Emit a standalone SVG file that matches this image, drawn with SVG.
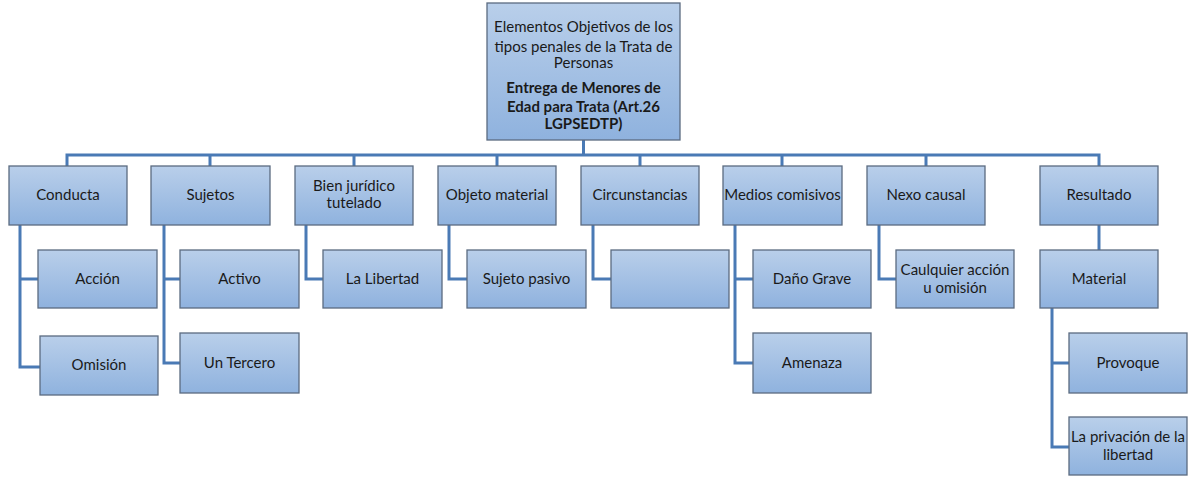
<svg xmlns="http://www.w3.org/2000/svg" width="1201" height="477" viewBox="0 0 1201 477">
<defs>
<linearGradient id="g" x1="0" y1="0" x2="0" y2="1">
<stop offset="0" stop-color="#b9cfea"/>
<stop offset="1" stop-color="#8fb2de"/>
</linearGradient>
<style>
.b{fill:url(#g);stroke:#5b6b80;stroke-width:1.3}
.t{font-family:Lato,"Open Sans",sans-serif;font-size:15px;fill:#1a1a1a;text-anchor:middle}
.bd{font-weight:bold}
.c{fill:none;stroke:#4a7ab5;stroke-width:3}
</style>
</defs>
<rect width="1201" height="477" fill="#fff"/>
<g id="connectors">
<path class="c" d="M583.5 140V155M67 166V155H1099V166M210 166V155M354 166V155M497 166V155M640 166V155M782 166V155M926 166V155"/>
<path class="c" d="M20 225V367H40M20 279H38"/>
<path class="c" d="M164 225V363H180M164 279H180"/>
<path class="c" d="M306 225V279H323"/>
<path class="c" d="M449 225V279H467"/>
<path class="c" d="M593 225V279H611"/>
<path class="c" d="M735 225V363H753M735 279H753"/>
<path class="c" d="M879 225V279H896"/>
<path class="c" d="M1099 225V250"/>
<path class="c" d="M1052 308V447H1069M1052 363H1069"/>
</g>
<g id="root"><rect class="b" x="487" y="3" width="193" height="137"/>
<text class="t" x="583.5" y="32">Elementos Objetivos de los</text>
<text class="t" x="583.5" y="52">tipos penales de la Trata de</text>
<text class="t" x="583.5" y="68">Personas</text>
<text class="t bd" x="583.5" y="93">Entrega de Menores de</text>
<text class="t bd" x="583.5" y="112">Edad para Trata (Art.26</text>
<text class="t bd" x="583.5" y="129">LGPSEDTP)</text></g>
<g id="conducta"><rect class="b" x="9" y="166" width="118" height="59"/><text class="t" x="68" y="200">Conducta</text></g>
<g id="sujetos"><rect class="b" x="151" y="166" width="119" height="59"/><text class="t" x="210.5" y="200">Sujetos</text></g>
<g id="bien"><rect class="b" x="295" y="166" width="118" height="59"/><text class="t" x="354" y="191">Bien jurídico</text><text class="t" x="354" y="208">tutelado</text></g>
<g id="objeto"><rect class="b" x="438" y="166" width="118" height="59"/><text class="t" x="497" y="200">Objeto material</text></g>
<g id="circ"><rect class="b" x="581" y="166" width="118" height="59"/><text class="t" x="640" y="200">Circunstancias</text></g>
<g id="medios"><rect class="b" x="723" y="166" width="119" height="59"/><text class="t" x="782.5" y="200">Medios comisivos</text></g>
<g id="nexo"><rect class="b" x="867" y="166" width="118" height="59"/><text class="t" x="926" y="200">Nexo causal</text></g>
<g id="resultado"><rect class="b" x="1040" y="166" width="118" height="59"/><text class="t" x="1099" y="200">Resultado</text></g>
<g id="accion"><rect class="b" x="38" y="250" width="119" height="58"/><text class="t" x="97.5" y="284">Acción</text></g>
<g id="omision"><rect class="b" x="40" y="336" width="118" height="59"/><text class="t" x="99" y="370">Omisión</text></g>
<g id="activo"><rect class="b" x="180" y="250" width="119" height="58"/><text class="t" x="239.5" y="284">Activo</text></g>
<g id="tercero"><rect class="b" x="180" y="333" width="119" height="60"/><text class="t" x="239.5" y="368">Un Tercero</text></g>
<g id="libertad"><rect class="b" x="323" y="250" width="119" height="58"/><text class="t" x="382.5" y="284">La Libertad</text></g>
<g id="pasivo"><rect class="b" x="467" y="250" width="119" height="58"/><text class="t" x="526.5" y="284">Sujeto pasivo</text></g>
<g id="vacio"><rect class="b" x="611" y="250" width="118" height="58"/></g>
<g id="dano"><rect class="b" x="753" y="250" width="118" height="58"/><text class="t" x="812" y="284">Daño Grave</text></g>
<g id="amenaza"><rect class="b" x="753" y="333" width="118" height="60"/><text class="t" x="812" y="368">Amenaza</text></g>
<g id="cualquier"><rect class="b" x="896" y="250" width="118" height="58"/><text class="t" x="955" y="275">Caulquier acción</text><text class="t" x="955" y="293">u omisión</text></g>
<g id="material"><rect class="b" x="1040" y="250" width="118" height="58"/><text class="t" x="1099" y="284">Material</text></g>
<g id="provoque"><rect class="b" x="1069" y="333" width="118" height="60"/><text class="t" x="1128" y="368">Provoque</text></g>
<g id="privacion"><rect class="b" x="1069" y="417" width="118" height="58"/><text class="t" x="1128" y="442">La privación de la</text><text class="t" x="1128" y="460">libertad</text></g>
</svg>
